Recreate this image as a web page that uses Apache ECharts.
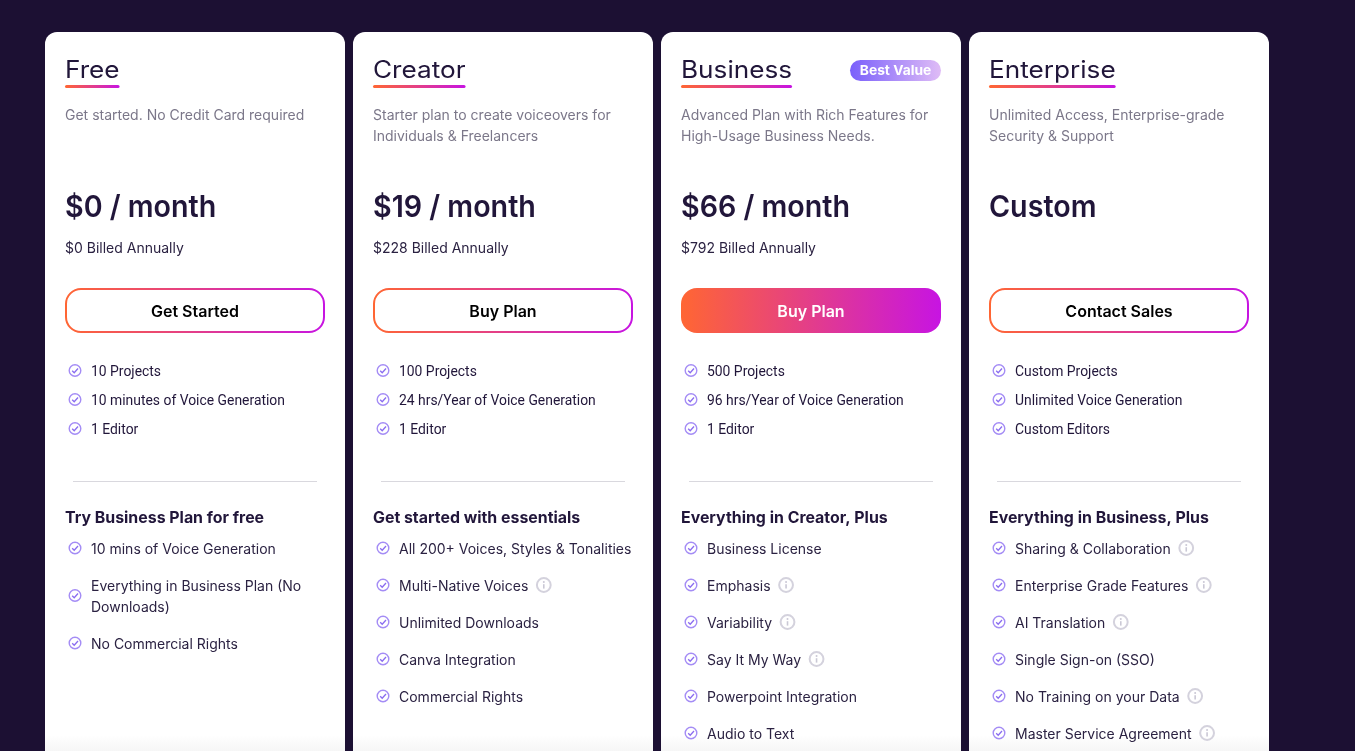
<!DOCTYPE html>
<html>
<head>
<meta charset="utf-8">
<style>
  html, body { margin: 0; padding: 0; background: #1c1033; overflow: hidden; }
  #main { width: 1355px; height: 751px; }
</style>
<script src="https://cdn.jsdelivr.net/npm/echarts@6/dist/echarts.min.js"></script>
</head>
<body>
<div id="main"></div>
<script>
// pricing table text, one entry per plan
var planNames = ['Free', 'Creator', 'Business', 'Enterprise'];
var planBlurbs = [
  ['Get started. No Credit Card required'],
  ['Starter plan to create voiceovers for', 'Individuals & Freelancers'],
  ['Advanced Plan with Rich Features for', 'High-Usage Business Needs.'],
  ['Unlimited Access, Enterprise-grade', 'Security & Support']
];
var planPrices = ['$0 / month', '$19 / month', '$66 / month', 'Custom'];
var planBilled = ['$0 Billed Annually', '$228 Billed Annually', '$792 Billed Annually', ''];
var planButtons = ['Get Started', 'Buy Plan', 'Buy Plan', 'Contact Sales'];
var planQuotas = [
  ['10 Projects', '10 minutes of Voice Generation', '1 Editor'],
  ['100 Projects', '24 hrs/Year of Voice Generation', '1 Editor'],
  ['500 Projects', '96 hrs/Year of Voice Generation', '1 Editor'],
  ['Custom Projects', 'Unlimited Voice Generation', 'Custom Editors']
];
var featureHeads = ['Try Business Plan for free', 'Get started with essentials', 'Everything in Creator, Plus', 'Everything in Business, Plus'];
var featureItems = [
  [['10 mins of Voice Generation'], ['Everything in Business Plan (No', 'Downloads)'], ['No Commercial Rights']],
  [['All 200+ Voices, Styles & Tonalities'], ['Multi-Native Voices'], ['Unlimited Downloads'], ['Canva Integration'], ['Commercial Rights']],
  [['Business License'], ['Emphasis'], ['Variability'], ['Say It My Way'], ['Powerpoint Integration'], ['Audio to Text']],
  [['Sharing & Collaboration'], ['Enterprise Grade Features'], ['AI Translation'], ['Single Sign-on (SSO)'], ['No Training on your Data'], ['Master Service Agreement']]
];
// which feature rows carry the little (i) icon
var featureInfo = [[], [1], [1, 2, 3], [0, 1, 2, 4, 5]];
var bestValuePlan = 2;
var bestValueLabel = 'Best Value';

var BG = '#1c1033', INK = '#21163a', GREY = '#7b7789';
var UI = 'Inter, "Noto Sans", sans-serif';

function brand() {
  return new echarts.graphic.LinearGradient(0, 0, 1, 0, [
    { offset: 0, color: '#ff6633' },
    { offset: 1, color: '#c714e2' }
  ]);
}

var ctx = document.createElement('canvas').getContext('2d');
function textWidth(str, font) {
  ctx.font = font;
  return ctx.measureText(str).width;
}

// scale stretches the text sideways from its left edge, for the wider heading faces
function label(str, x, y, font, fill, align, scale) {
  var el = {
    type: 'text',
    silent: true,
    style: { text: str, x: x, y: y + 1, font: font, fill: fill, align: align || 'left', verticalAlign: 'middle' }
  };
  if (scale) {
    el.style.x = 0;
    el.x = x;
    el.scaleX = scale;
  }
  return el;
}

function checkIcon(x, y) {
  return [
    { type: 'circle', silent: true, shape: { cx: x, cy: y, r: 5.8 }, style: { fill: 'none', stroke: '#a48cf5', lineWidth: 1.4 } },
    { type: 'polyline', silent: true, shape: { points: [[x - 2.8, y + 0.2], [x - 0.8, y + 2.2], [x + 3, y - 2]] }, style: { fill: 'none', stroke: '#8a6cf0', lineWidth: 1.3 } }
  ];
}

function infoIcon(x, y) {
  return [
    { type: 'circle', silent: true, shape: { cx: x, cy: y, r: 6.9 }, style: { fill: 'none', stroke: '#d4d2dd', lineWidth: 2 } },
    { type: 'line', silent: true, shape: { x1: x, y1: y - 0.8, x2: x, y2: y + 3.6 }, style: { stroke: '#cac8d5', lineWidth: 1.6 } },
    { type: 'circle', silent: true, shape: { cx: x, cy: y - 3, r: 1 }, style: { fill: '#cac8d5' } }
  ];
}

var els = [];
var TITLE_FONT = '400 24px Inter, sans-serif';
var TITLE_SCALE = 1.09;
var PRICE_SCALE = 0.955;
var ITEM_FONT = '14px ' + UI;

planNames.forEach(function (name, i) {
  var left = 45 + i * 308;
  var tx = left + 20;

  // card, fades to light grey at the window bottom
  els.push({
    type: 'rect', silent: true,
    shape: { x: left, y: 32, width: 300, height: 760, r: 12 },
    style: { fill: '#ffffff' }
  });
  els.push({
    type: 'rect', silent: true,
    shape: { x: left, y: 735, width: 300, height: 16 },
    style: { fill: new echarts.graphic.LinearGradient(0, 0, 0, 1, [{ offset: 0, color: '#ffffff' }, { offset: 1, color: '#f6f6f6' }]) }
  });

  // title with underline
  var titleW = textWidth(name, TITLE_FONT) * TITLE_SCALE;
  els.push(label(name, tx, 69.5, TITLE_FONT, INK, 'left', TITLE_SCALE));
  els.push({
    type: 'rect', silent: true,
    shape: { x: tx, y: 85, width: titleW, height: 3, r: 1.5 },
    style: { fill: brand() }
  });
  if (i === bestValuePlan) {
    els.push({
      type: 'rect', silent: true,
      shape: { x: left + 189, y: 60, width: 91, height: 21, r: 10.5 },
      style: { fill: new echarts.graphic.LinearGradient(0, 0, 1, 0, [{ offset: 0, color: '#7a60fb' }, { offset: 1, color: '#dfbcf6' }]) }
    });
    els.push(label(bestValueLabel, left + 234.5, 69.5, '700 13.8px ' + UI, '#ffffff', 'center'));
  }

  planBlurbs[i].forEach(function (line, k) {
    els.push(label(line, tx, 115 + k * 21, '14px ' + UI, GREY));
  });

  els.push(label(planPrices[i], tx, 207, '600 30px ' + UI, INK, 'left', PRICE_SCALE));
  if (planBilled[i]) els.push(label(planBilled[i], tx, 248, '14px ' + UI, '#2b2242'));

  // button
  var filled = i === bestValuePlan;
  els.push({
    type: 'rect', silent: true,
    shape: filled ? { x: tx, y: 288, width: 260, height: 45, r: 16 } : { x: tx + 1, y: 289, width: 258, height: 43, r: 15 },
    style: filled ? { fill: brand() } : { fill: '#ffffff', stroke: brand(), lineWidth: 2 }
  });
  els.push(label(planButtons[i], left + 150, 311, '600 16px ' + UI, filled ? '#ffffff' : '#000000', 'center'));

  // quota list
  planQuotas[i].forEach(function (q, k) {
    var y = 371 + k * 29;
    els = els.concat(checkIcon(left + 30, y - 0.5));
    els.push(label(q, left + 46, y + 0.6, '13.9px Roboto, sans-serif', INK));
  });

  els.push({
    type: 'line', silent: true,
    shape: { x1: left + 28, y1: 481.5, x2: left + 272, y2: 481.5 },
    style: { stroke: '#d9d8de', lineWidth: 1 }
  });

  els.push(label(featureHeads[i], tx, 517.5, '700 15.9px ' + UI, INK));

  // feature list, rows step by 37px and wrapped lines by 21px
  var y = 549;
  featureItems[i].forEach(function (lines, k) {
    var mid = y + (lines.length - 1) * 10.5;
    els = els.concat(checkIcon(left + 30, mid - 1));
    lines.forEach(function (line, n) {
      els.push(label(line, left + 46, y + n * 21, ITEM_FONT, '#2b2242'));
    });
    if (featureInfo[i].indexOf(k) >= 0) {
      els = els.concat(infoIcon(left + 46 + textWidth(lines[0], ITEM_FONT) + 15.5, y - 1));
    }
    y += 37 + (lines.length - 1) * 21;
  });
});

var chart = echarts.init(document.getElementById('main'));
chart.setOption({
  backgroundColor: BG,
  animation: false,
  graphic: { elements: els }
});
</script>
</body>
</html>
